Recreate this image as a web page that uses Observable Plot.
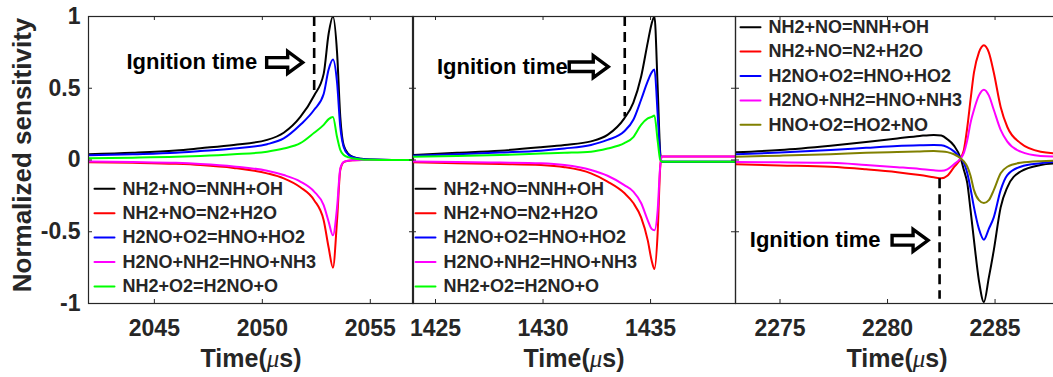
<!DOCTYPE html>
<html><head><meta charset="utf-8">
<script src="https://cdn.jsdelivr.net/npm/d3@7"></script>
<script src="https://cdn.jsdelivr.net/npm/@observablehq/plot@0.6"></script>
<style>
html,body{margin:0;padding:0;background:#fff;overflow:hidden;}
#chart{position:relative;width:1053px;height:377px;overflow:hidden;}
#chart svg{position:absolute;top:0;}
</style></head><body><div id="chart"></div>
<script>
// ---------- data ----------
const namesA = ["NH2+NO=NNH+OH","NH2+NO=N2+H2O","H2NO+O2=HNO+HO2","H2NO+NH2=HNO+NH3","NH2+O2=H2NO+O"];
const namesB = ["NH2+NO=NNH+OH","NH2+NO=N2+H2O","H2NO+O2=HNO+HO2","H2NO+NH2=HNO+NH3","HNO+O2=HO2+NO"];
const colorsA = ["#000000","#ff0000","#0000ff","#ff00ff","#00ff00"];
const colorsB = ["#000000","#ff0000","#0000ff","#ff00ff","#808000"];
const yTicks = [-1, -0.5, 0, 0.5, 1];
const xTicks1 = [2045, 2050, 2055];
const xTicks2 = [1425, 1430, 1435];
const xTicks3 = [2275, 2280, 2285];

const time1 = [2041.95, 2044, 2046, 2047.13, 2048.67, 2050.22, 2050.99, 2051.76, 2052.4, 2052.84, 2053.07, 2053.27, 2053.46, 2053.61, 2053.77, 2054.0, 2054.23, 2054.6, 2055, 2056, 2057];
const black1   = [0.04, 0.05, 0.066, 0.082, 0.105, 0.14, 0.19, 0.30, 0.45, 0.60, 0.88, 1.0, 0.75, 0.30, 0.10, 0.04, 0.02, 0.008, 0.003, 0, 0];
const red1     = [-0.016, -0.02, -0.027, -0.035, -0.055, -0.093, -0.128, -0.19, -0.28, -0.42, -0.61, -0.75, -0.42, -0.07, -0.015, -0.005, -0.002, 0, 0, 0, 0];
const blue1    = [0.033, 0.04, 0.05, 0.062, 0.08, 0.11, 0.15, 0.245, 0.35, 0.46, 0.63, 0.70, 0.54, 0.23, 0.09, 0.035, 0.018, 0.007, 0.003, 0, 0];
const magenta1 = [-0.01, -0.014, -0.02, -0.028, -0.045, -0.075, -0.105, -0.15, -0.22, -0.315, -0.43, -0.525, -0.33, -0.06, -0.013, -0.005, -0.002, 0, 0, 0, 0];
const green1   = [0.012, 0.016, 0.022, 0.028, 0.04, 0.058, 0.08, 0.117, 0.19, 0.245, 0.285, 0.30, 0.16, 0.07, 0.035, 0.018, 0.01, 0.004, 0.002, 0, 0];

const time2 = [1423.93, 1426, 1428, 1429.9, 1431, 1432.23, 1433, 1433.78, 1434.2, 1434.56, 1434.87, 1435.05, 1435.18, 1435.33, 1435.45, 1435.52, 1436, 1437, 1438.95];
const black2   = [0.035, 0.05, 0.065, 0.089, 0.105, 0.13, 0.175, 0.29, 0.40, 0.58, 0.82, 0.95, 1.0, 0.51, 0.05, -0.013, -0.013, -0.013, -0.013];
const red2     = [-0.016, -0.022, -0.028, -0.035, -0.05, -0.093, -0.15, -0.23, -0.30, -0.40, -0.56, -0.70, -0.76, -0.51, -0.05, 0.025, 0.025, 0.025, 0.025];
const blue2    = [0.03, 0.04, 0.052, 0.065, 0.08, 0.105, 0.14, 0.20, 0.28, 0.42, 0.55, 0.61, 0.63, 0.32, 0.03, -0.013, -0.013, -0.013, -0.013];
const magenta2 = [-0.01, -0.014, -0.018, -0.023, -0.035, -0.07, -0.11, -0.175, -0.22, -0.30, -0.42, -0.48, -0.49, -0.35, -0.04, 0.025, 0.025, 0.025, 0.025];
const green2   = [0.023, 0.028, 0.035, 0.045, 0.05, 0.058, 0.08, 0.117, 0.16, 0.245, 0.29, 0.30, 0.31, 0.135, 0.0, -0.013, -0.013, -0.013, -0.013];

const time3 = [2272.93, 2275, 2277.35, 2279, 2280.45, 2281.5, 2282.15, 2282.5, 2282.78, 2283.09, 2283.40, 2283.55, 2283.71, 2283.86, 2284.02, 2284.25, 2284.48, 2284.71, 2284.94, 2285.26, 2285.57, 2286.19, 2287.12, 2287.95];
const black3   = [0.054, 0.07, 0.1, 0.125, 0.15, 0.168, 0.175, 0.17, 0.145, 0.1, 0.012, -0.07, -0.163, -0.35, -0.56, -0.84, -0.99, -0.82, -0.63, -0.33, -0.19, -0.08, -0.035, -0.023];
const red3     = [-0.03, -0.038, -0.047, -0.065, -0.085, -0.105, -0.12, -0.128, -0.11, -0.05, 0.012, 0.07, 0.23, 0.42, 0.61, 0.75, 0.80, 0.75, 0.61, 0.37, 0.23, 0.117, 0.058, 0.045];
const blue3    = [0.04, 0.052, 0.07, 0.085, 0.098, 0.103, 0.105, 0.103, 0.09, 0.06, 0.012, -0.02, -0.093, -0.2, -0.33, -0.48, -0.555, -0.48, -0.40, -0.21, -0.105, -0.047, -0.023, -0.012];
const magenta3 = [-0.014, -0.016, -0.02, -0.035, -0.05, -0.062, -0.072, -0.075, -0.065, -0.03, 0.012, 0.05, 0.14, 0.26, 0.35, 0.45, 0.49, 0.45, 0.35, 0.21, 0.128, 0.058, 0.028, 0.023];
const olive3   = [0.023, 0.03, 0.04, 0.05, 0.056, 0.06, 0.062, 0.06, 0.055, 0.04, 0.012, -0.01, -0.047, -0.11, -0.21, -0.28, -0.30, -0.28, -0.21, -0.093, -0.047, -0.019, -0.008, -0.005];

// ignition time (dashed line) and its vertical extent
const ignition1 = {t: 2052.4, y1: 1, y2: 0.45};
const ignition2 = {t: 1433.8, y1: 1, y2: 0.30};
const ignition3 = {t: 2282.42, y1: -0.13, y2: -0.97};

// ---------- drawing ----------
const FONT = "'Liberation Sans', Arial, Helvetica, sans-serif";
const AX = "#262626";
const H = 377, MT = 16, MB = 74, PH = H - MT - MB;

const lineShape = {draw(ctx, l) { ctx.moveTo(0, 0); ctx.lineTo(0, -l); }};
const blockArrow = {draw(ctx, l) {
  const sh = 4.8, hh = 11, hl = 15;
  ctx.moveTo(-sh, 0);
  ctx.lineTo(-sh, -(l - hl));
  ctx.lineTo(-hh, -(l - hl));
  ctx.lineTo(0, -l);
  ctx.lineTo(hh, -(l - hl));
  ctx.lineTo(sh, -(l - hl));
  ctx.lineTo(sh, 0);
  ctx.closePath();
}};

function panel(cfg) {
  const PW = cfg.width - cfg.ml - cfg.mr;
  const marks = [];
  cfg.series.forEach((vals, i) => {
    const rows = cfg.time.map((t, j) => ({t, v: vals[j]}));
    marks.push(Plot.line(rows, {x: "t", y: "v", stroke: cfg.colors[i], strokeWidth: 2, curve: "monotone-x", clip: true}));
  });
  // dashed ignition line
  marks.push(Plot.ruleX([cfg.ign], {x: "t", y1: "y1", y2: "y2", stroke: "black", strokeWidth: 2.6, strokeDasharray: "10,6"}));
  // annotation
  marks.push(Plot.text(["Ignition time"], {x: () => cfg.ign.t, y: () => cfg.annY, text: d => d, dx: cfg.textDx, textAnchor: "end", lineAnchor: "middle", fontSize: 22, fontWeight: "bold", fill: "black"}));
  marks.push(Plot.vector([cfg.ign], {x: "t", y: () => cfg.annY, dx: cfg.arrowDx, rotate: 90, length: cfg.arrowLen, anchor: "start", shape: blockArrow, stroke: "black", strokeWidth: 3.4, fill: "white", strokeLinejoin: "miter"}));
  // legend
  cfg.names.forEach((name, i) => {
    const dy = cfg.legTop + i * 24.4;
    marks.push(Plot.vector([name], {frameAnchor: "top-left", dx: cfg.legLineDx, dy, rotate: 90, length: 20, anchor: "start", shape: lineShape, stroke: cfg.colors[i], strokeWidth: 2}));
    marks.push(Plot.text([name], {frameAnchor: "top-left", text: d => d, dx: cfg.legTextDx, dy, textAnchor: "start", lineAnchor: "middle", fontSize: 18, fontWeight: "bold", fill: AX}));
  });
  // frame and inward ticks
  marks.push(Plot.frame({stroke: AX, strokeWidth: 1.2}));
  marks.push(Plot.tickX(cfg.xTicks, {x: d => d, insetTop: PH - 4, stroke: AX}));
  marks.push(Plot.tickX(cfg.xTicks, {x: d => d, insetBottom: PH - 4, stroke: AX}));
  marks.push(Plot.tickY(yTicks, {y: d => d, insetRight: PW - 4, stroke: AX}));
  marks.push(Plot.tickY(yTicks, {y: d => d, insetLeft: PW - 4, stroke: AX}));
  // axes
  marks.push(Plot.axisX(cfg.xTicks, {tickSize: 0, tickPadding: 16, tickFormat: d => String(d), fontSize: 23, fontWeight: "bold", fill: AX, label: null}));
  marks.push(Plot.text(["Time(μs)"], {frameAnchor: "bottom", text: d => d, dy: 55, textAnchor: "middle", lineAnchor: "middle", fontSize: 25, fontWeight: "bold", fill: AX}));
  if (cfg.yAxis) {
    marks.push(Plot.axisY(yTicks, {tickSize: 0, tickPadding: 8, tickFormat: d => String(d), fontSize: 23, fontWeight: "bold", fill: AX, label: null}));
    marks.push(Plot.text(["Normalized sensitivity"], {frameAnchor: "left", text: d => d, dx: -66, dy: -5, rotate: -90, textAnchor: "middle", lineAnchor: "middle", fontSize: 26, fontWeight: "bold", fill: AX}));
  }
  const svg = Plot.plot({
    width: cfg.width, height: H,
    marginLeft: cfg.ml, marginRight: cfg.mr, marginTop: MT, marginBottom: MB,
    x: {domain: cfg.domain},
    y: {domain: [-1, 1], axis: cfg.yAxis ? undefined : null},
    style: {background: "transparent", fontFamily: FONT, overflow: "visible"},
    marks
  });
  // italic mu in the axis label, as in the original TeX-style label
  svg.querySelectorAll("text").forEach(el => {
    if (el.textContent === "Time(μs)") {
      const ns = "http://www.w3.org/2000/svg";
      el.textContent = "";
      [["Time(", null], ["μ", "italic"], ["s)", null]].forEach(([s, st]) => {
        const ts = document.createElementNS(ns, "tspan");
        ts.textContent = s;
        if (st) { ts.setAttribute("font-style", st); ts.setAttribute("font-weight", "normal"); ts.setAttribute("font-family", "'Liberation Serif', 'DejaVu Serif', serif"); }
        el.appendChild(ts);
      });
    }
  });
  svg.style.left = cfg.left + "px";
  document.getElementById("chart").appendChild(svg);
}

panel({left: 0, width: 415, ml: 88, mr: 2, domain: [2041.95, 2057.0], time: time1,
  series: [black1, red1, blue1, magenta1, green1], colors: colorsA, names: namesA, xTicks: xTicks1,
  ign: ignition1, annY: 0.68, textDx: -57, arrowDx: -47.5, arrowLen: 36,
  legTop: 172.3, legLineDx: 6, legTextDx: 34, yAxis: true});
panel({left: 402, width: 335, ml: 10, mr: 2, domain: [1423.93, 1438.95], time: time2,
  series: [black2, red2, blue2, magenta2, green2], colors: colorsA, names: namesA, xTicks: xTicks2,
  ign: ignition2, annY: 0.65, textDx: -57, arrowDx: -55.5, arrowLen: 39,
  legTop: 172.3, legLineDx: 3, legTextDx: 31, yAxis: false});
panel({left: 725, width: 340, ml: 10, mr: 7, domain: [2272.93, 2287.95], time: time3,
  series: [black3, red3, blue3, magenta3, olive3], colors: colorsB, names: namesB, xTicks: xTicks3,
  ign: ignition3, annY: -0.56, textDx: -59, arrowDx: -47.5, arrowLen: 36,
  legTop: 10.7, legLineDx: 5, legTextDx: 33, yAxis: false});
</script></body></html>
